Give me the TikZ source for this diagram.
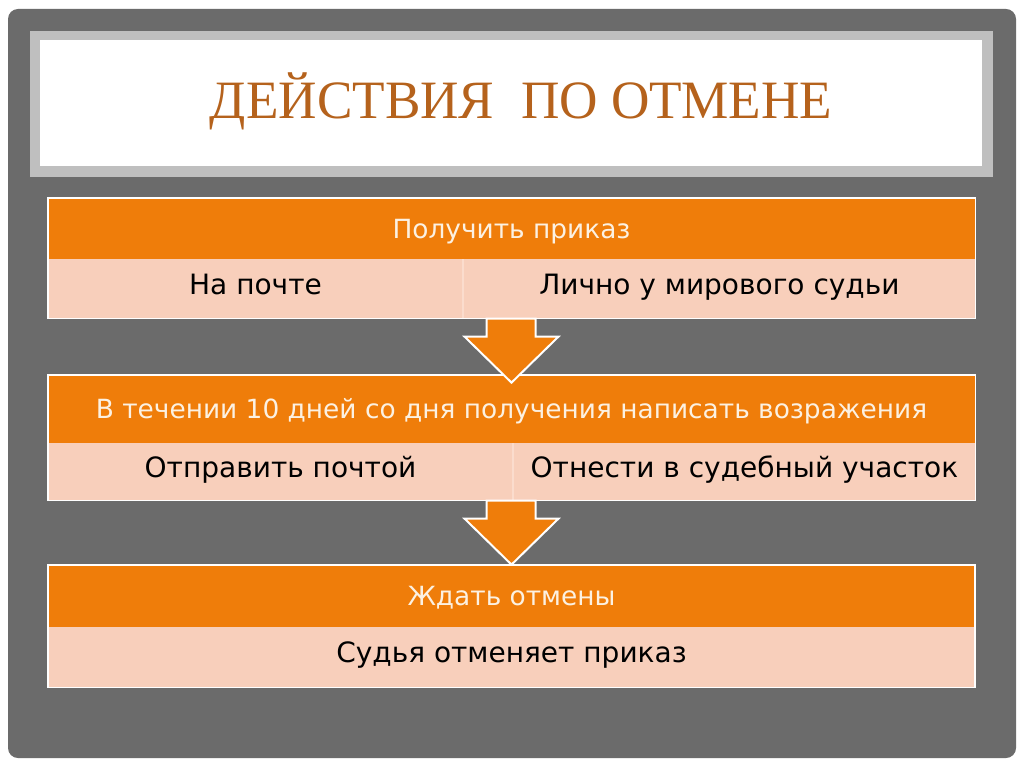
\documentclass[tikz,border=0pt]{standalone}
\usepackage{fontspec}
\setmainfont{Liberation Serif}
\newfontfamily\bodyfont{DejaVu Sans}
\usepackage{tikz}

\definecolor{slate}{HTML}{6B6B6B}
\definecolor{band}{HTML}{BFBFBF}
\definecolor{flow}{HTML}{EF7D0A}
\definecolor{blush}{HTML}{F8CFBB}
\definecolor{rust}{HTML}{B5621C}
\definecolor{cream}{HTML}{FCF1E2}
\definecolor{seam}{HTML}{FBDCCD}

\tikzset{
    hdr/.style = {fill = flow, text = cream, inner sep = 0, minimum width = 927pt,
        font = \bodyfont\fontsize{26.4}{31}\selectfont, text height = 19.3pt, text depth = 0pt},
    cell/.style = {fill = blush, text = black, inner sep = 0, anchor = north west,
        font = \bodyfont\fontsize{28}{33}\selectfont, text height = 20.4pt, text depth = 10pt},
    rim/.style = {draw = white, line width = 1.5pt},
    blockarrow/.style = {fill = flow, draw = white, line width = 2pt, line join = miter}
}

\begin{document}
\begin{tikzpicture}[x = 1pt, y = -1pt]
            \useasboundingbox (0, 0) rectangle (1024, 767);
            \fill[white] (0, 0) rectangle (1024, 767);
            \fill[slate, rounded corners = 10pt] (8, 9) rectangle (1016, 758);
            \fill[band] (30, 31) rectangle (993, 177);
            \fill[white] (40, 40) rectangle (982, 166);
            \node[anchor = base, text = rust, font = \fontsize{54}{60}\selectfont, xscale = 0.985] (title) at (521, 119) {ДЕЙСТВИЯ\ \ ПО ОТМЕНЕ};

            % first block
            \node[hdr, minimum height = 61pt] (hone) at (511.5, 228.5) {Получить приказ};
            \node[cell, minimum width = 415pt, minimum height = 59pt] (na) at (hone.south west) {На почте};
            \node[cell, minimum width = 512pt, minimum height = 59pt] (nb) at (na.north east) {Лично у мирового судьи};
            \draw[seam, line width = 2pt] (na.north east) -- (na.south east);
            \draw[rim] (hone.north west) rectangle (nb.south east);

            % second block
            \node[hdr, minimum height = 68pt] (htwo) at (511.5, 409) {В течении 10 дней со дня получения написать возражения};
            \node[cell, minimum width = 465pt, minimum height = 57pt] (ta) at (htwo.south west) {Отправить почтой};
            \node[cell, minimum width = 462pt, minimum height = 57pt] (tb) at (ta.north east) {Отнести в судебный участок};
            \draw[seam, line width = 2pt] (ta.north east) -- (ta.south east);
            \draw[rim] (htwo.north west) rectangle (tb.south east);

            % third block
            \node[hdr, minimum height = 62pt] (hthree) at (511.5, 596) {Ждать отмены};
            \node[cell, minimum width = 927pt, minimum height = 60pt] (sa) at (hthree.south west) {Судья отменяет приказ};
            \draw[rim] (hthree.north west) rectangle (sa.south east);

            % arrows between the blocks
            \foreach \src in {na, ta} {
                \draw[blockarrow, shift = {(hone.center |- \src.south)}]
                    (-25, 0) -- (24, 0) -- (24, 18) -- (47, 18) -- (0, 64) -- (-47, 18) -- (-25, 18) -- cycle;
            }
        \end{tikzpicture}
\end{document}
